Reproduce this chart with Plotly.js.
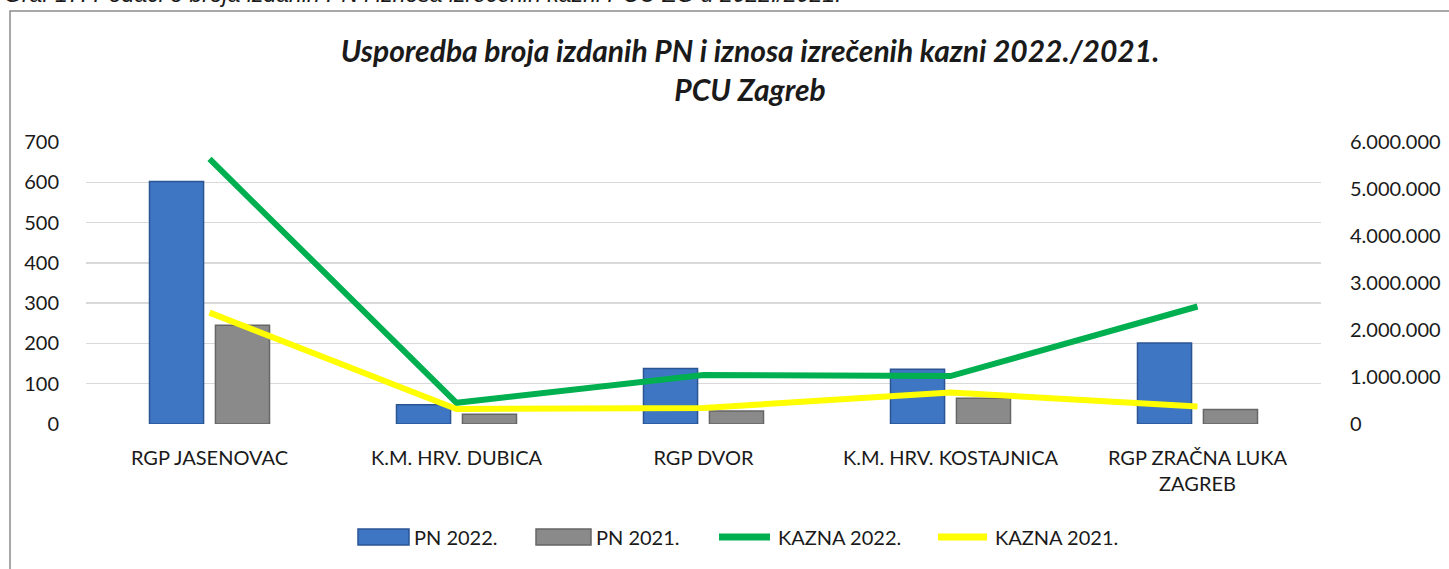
<!DOCTYPE html>
<html>
<head>
<meta charset="utf-8">
<script src="https://cdn.plot.ly/plotly-3.0.1.min.js"></script>
<style>
  html, body { margin: 0; padding: 0; background: #ffffff; }
  #chart { width: 1449px; height: 569px; }
</style>
</head>
<body>
<div id="chart"></div>
<script>
// ---- data ----
const categories = ["RGP JASENOVAC", "K.M. HRV. DUBICA", "RGP DVOR", "K.M. HRV. KOSTAJNICA", "RGP ZRAČNA LUKA<br>ZAGREB"];
const pn2022 = [602, 48, 138, 136, 201];
const pn2021 = [245, 24, 32, 64, 36];
const kazna2022 = [5640000, 450000, 1040000, 1020000, 2500000];
const kazna2021 = [2370000, 320000, 340000, 670000, 370000];
const seriesNames = ["PN 2022.", "PN 2021.", "KAZNA 2022.", "KAZNA 2021."];
const chartTitle = "Usporedba broja izdanih PN i iznosa izrečenih kazni 2022./2021.<br>PCU Zagreb";
const caption = "Graf 17: Podaci o broja izdanih PN i iznosa izrečenih kazni PCU ZG u 2022./2021.";

// ---- styles ----
const FONT = "Lato, 'Open Sans', sans-serif";
const tickFont = { family: FONT, size: 20, color: "#1a1a1a" };
const colors = {
  bar22: "#3f76c4", bar22line: "#2a5592",
  bar21: "#8a8a8a", bar21line: "#666666",
  line22: "#00b050", line21: "#ffff00"
};

// plot area in pixels
const W = 1449, H = 569;
const PL = 86, PR = 1321, PT = 142, PB = 424;
const px2x = p => (p - PL) / (PR - PL);
const py2y = p => (PB - p) / (PB - PT);

const traces = [
  { type: "bar", name: seriesNames[0], x: categories, y: pn2022,
    marker: { color: colors.bar22, line: { color: colors.bar22line, width: 1.5 } }, yaxis: "y" },
  { type: "bar", name: seriesNames[1], x: categories, y: pn2021,
    marker: { color: colors.bar21, line: { color: colors.bar21line, width: 1.5 } }, yaxis: "y" },
  { type: "scatter", mode: "lines", name: seriesNames[2], x: categories, y: kazna2022,
    line: { color: colors.line22, width: 6 }, yaxis: "y2" },
  { type: "scatter", mode: "lines", name: seriesNames[3], x: categories, y: kazna2021,
    line: { color: colors.line21, width: 6 }, yaxis: "y2" }
];

// custom legend (swatches + labels), centred at y = 537 px
const LY = 537;
const legendItems = [
  { kind: "bar", fill: colors.bar22, edge: colors.bar22line, x0: 358, x1: 409, tx: 412 },
  { kind: "bar", fill: colors.bar21, edge: colors.bar21line, x0: 536, x1: 591, tx: 594 },
  { kind: "line", fill: colors.line22, x0: 716, x1: 773, tx: 776 },
  { kind: "line", fill: colors.line21, x0: 935, x1: 990, tx: 993 }
];
const shapes = [
  { type: "rect", xref: "paper", yref: "paper",
    x0: px2x(10), x1: px2x(1480), y0: py2y(600), y1: py2y(11),
    line: { color: "#8c8c8c", width: 1.5 }, fillcolor: "rgba(0,0,0,0)", layer: "below" }
];
const annotations = [
  { text: caption, xref: "paper", yref: "paper",
    x: px2x(2), xanchor: "left", y: py2y(9), yanchor: "bottom", showarrow: false,
    font: { family: "'Liberation Sans', Arial, sans-serif", size: 23, color: "#1a1a1a", style: "italic" } }
];
legendItems.forEach((it, i) => {
  if (it.kind === "bar") {
    shapes.push({ type: "rect", xref: "paper", yref: "paper",
      x0: px2x(it.x0), x1: px2x(it.x1), y0: py2y(LY + 8), y1: py2y(LY - 8),
      fillcolor: it.fill, line: { color: it.edge, width: 1.5 } });
  } else {
    shapes.push({ type: "line", xref: "paper", yref: "paper",
      x0: px2x(it.x0 + 3), x1: px2x(it.x1 - 3), y0: py2y(LY), y1: py2y(LY),
      line: { color: it.fill, width: 7 } });
  }
  annotations.push({ text: seriesNames[i], xref: "paper", yref: "paper",
    x: px2x(it.tx), xanchor: "left", y: py2y(LY), yanchor: "middle",
    showarrow: false, font: tickFont });
});

const layout = {
  width: W, height: H,
  margin: { l: PL, r: W - PR, t: PT, b: H - PB, pad: 0 },
  paper_bgcolor: "#ffffff", plot_bgcolor: "#ffffff",
  separators: ",.",
  barmode: "group", bargap: 0.466, bargroupgap: 0.18,
  showlegend: false,
  title: {
    text: chartTitle,
    x: 750 / W, xref: "container", xanchor: "center",
    yref: "container", y: 1 - 62 / H, yanchor: "middle",
    font: { family: FONT, size: 30, color: "#1a1a1a", weight: 700, style: "italic" }
  },
  xaxis: {
    type: "category", showgrid: false, zeroline: false, showline: false,
    ticks: "outside", ticklen: 16, tickcolor: "rgba(0,0,0,0)",
    tickfont: tickFont, fixedrange: true
  },
  yaxis: {
    range: [0, 700], dtick: 100, tick0: 0,
    showgrid: true, gridcolor: "#d9d9d9", gridwidth: 1.5,
    zeroline: false, showline: false,
    ticks: "outside", ticklen: 22, tickcolor: "rgba(0,0,0,0)",
    tickfont: tickFont
  },
  yaxis2: {
    overlaying: "y", side: "right",
    range: [0, 6000000], dtick: 1000000, tick0: 0, tickformat: ",d",
    showgrid: false, zeroline: false, showline: false,
    ticks: "outside", ticklen: 24, tickcolor: "rgba(0,0,0,0)",
    tickfont: tickFont
  },
  shapes: shapes,
  annotations: annotations
};

Plotly.newPlot("chart", traces, layout, { staticPlot: true, displayModeBar: false });
</script>
</body>
</html>
